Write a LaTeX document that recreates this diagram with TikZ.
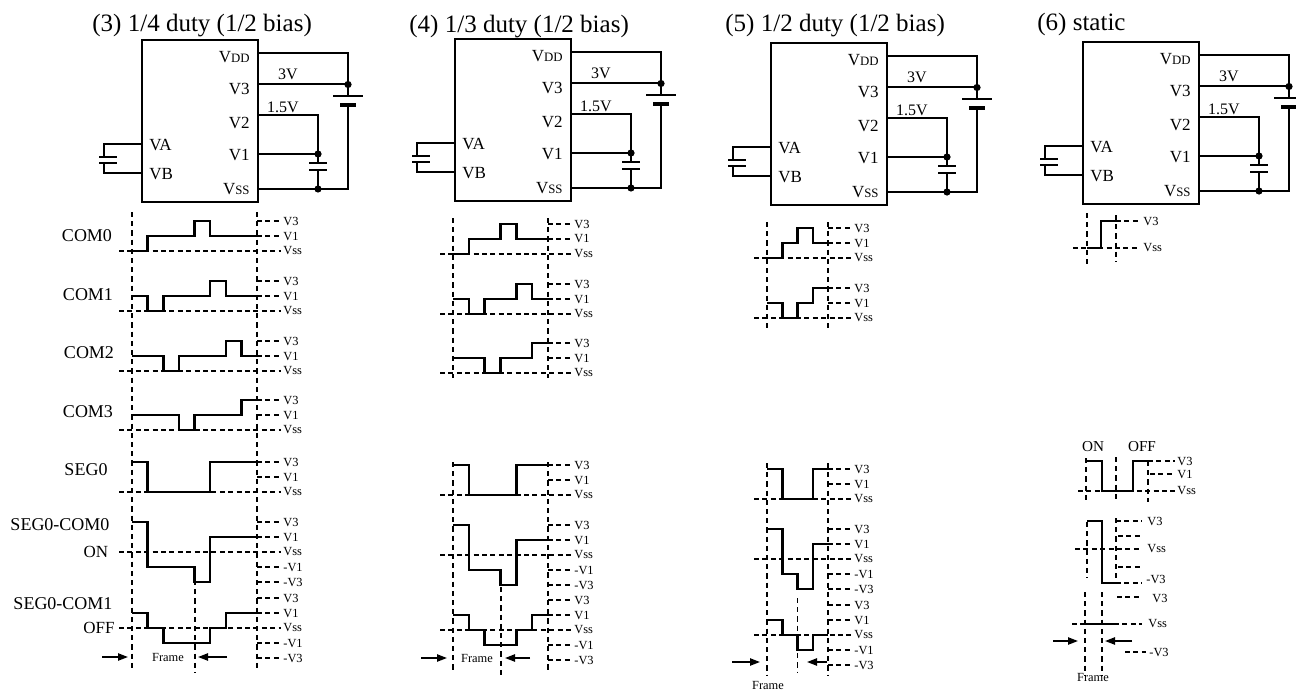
\documentclass[tikz,border=0pt]{standalone}
\usepackage{fontspec}
\setmainfont{Liberation Serif}
\usetikzlibrary{arrows.meta}
\newcommand\smc[1]{{\fontsize{6.4}{7}\selectfont #1}}
\tikzset{
  wave/.style={line width=1.25pt, line join=miter},
  wire/.style={line width=1pt},
  plate/.style={line width=1.3pt},
  bplate/.style={line width=1.8pt},
  dsh/.style={line width=0.75pt, dash pattern=on 2.5pt off 1.7pt},
  vdsh/.style={line width=0.8pt, dash pattern=on 2.6pt off 2pt},
  lvl/.style={font=\fontsize{6.2}{7}\selectfont, anchor=west, inner sep=0pt},
  sig/.style={font=\fontsize{9}{10}\selectfont, inner sep=0pt},
  pin/.style={font=\fontsize{8.5}{10}\selectfont, inner sep=0pt},
  ttl/.style={font=\fontsize{12.5}{14}\selectfont, anchor=base west, inner sep=0pt},
  arr/.style={line width=0.9pt, -{Triangle[length=5pt,width=3.6pt]}},
  dot/.style={circle, fill, inner sep=0pt, minimum size=3.6pt},
}
% circuit block: #1 id, #2 left x, #3 top y
\newcommand\chip[3]{%
  \pgfmathsetmacro\cL{#2}\pgfmathsetmacro\cT{#3}\pgfmathsetmacro\cR{#2+116}%
  \pgfmathsetmacro\cyA{#3+13}\pgfmathsetmacro\cyB{#3+44.5}\pgfmathsetmacro\cyC{#3+75.5}%
  \pgfmathsetmacro\cyD{#3+114}\pgfmathsetmacro\cyE{#3+149}%
  \pgfmathsetmacro\cxC{#2+176}\pgfmathsetmacro\cxB{#2+206}%
  \node[draw, wire, minimum width=58pt, minimum height=81pt, inner sep=0pt, outer sep=0pt, anchor=north west] (#1box) at (\cL,\cT) {};
  \draw[wire] (\cR,\cyA) -- (\cxB,\cyA) -- (\cxB,{\cT+56});
  \draw[wire] ({\cxB-15},{\cT+56}) -- ({\cxB+15},{\cT+56});
  \draw[bplate] ({\cxB-8},{\cT+65}) -- ({\cxB+8},{\cT+65});
  \draw[wire] (\cxB,{\cT+65}) -- (\cxB,\cyE) -- (\cR,\cyE);
  \draw[wire] (\cR,\cyB) -- (\cxB,\cyB);
  \draw[wire] (\cR,\cyC) -- (\cxC,\cyC) -- (\cxC,{\cT+123});
  \draw[plate] ({\cxC-9},{\cT+123}) -- ({\cxC+9},{\cT+123});
  \draw[plate] ({\cxC-9},{\cT+130}) -- ({\cxC+9},{\cT+130});
  \draw[wire] (\cxC,{\cT+130}) -- (\cxC,\cyE);
  \draw[wire] (\cR,\cyD) -- (\cxC,\cyD);
  \node[dot] (#1d1) at (\cxB,\cyB) {};
  \node[dot] (#1d2) at (\cxC,\cyD) {};
  \node[dot] (#1d3) at (\cxC,\cyE) {};
  \draw[wire] (\cL,{\cT+104}) -- ({\cL-38},{\cT+104}) -- ({\cL-38},{\cT+117});
  \draw[plate] ({\cL-43},{\cT+117}) -- ({\cL-25},{\cT+117});
  \draw[plate] ({\cL-43},{\cT+123}) -- ({\cL-25},{\cT+123});
  \draw[wire] ({\cL-38},{\cT+123}) -- ({\cL-38},{\cT+133}) -- (\cL,{\cT+133});
  \node[pin, anchor=east] (#1vdd) at ({\cR-8},{\cT+17.5}) {V\smc{DD}};
  \node[pin, anchor=east] (#1vt) at ({\cR-8},{\cT+49}) {V3};
  \node[pin, anchor=east] (#1vtw) at ({\cR-8},{\cT+83}) {V2};
  \node[pin, anchor=east] (#1vo) at ({\cR-8},{\cT+115.5}) {V1};
  \node[pin, anchor=east] (#1vss) at ({\cR-8},{\cT+149}) {V\smc{SS}};
  \node[pin, anchor=west] (#1va) at ({\cL+7},{\cT+105}) {VA};
  \node[pin, anchor=west] (#1vb) at ({\cL+7},{\cT+134}) {VB};
  \node[pin, font=\fontsize{8}{9}\selectfont] (#1tv) at ({\cR+30},{\cT+34}) {3V};
  \node[pin, font=\fontsize{8}{9}\selectfont] (#1hv) at ({\cR+25},{\cT+67}) {1.5V};
}
% step waveform: #1 first level, #2 levels, #3 y0
\newcommand\wv[3]{%
  \draw[wave] ({\xL},{#3+(#1)*\dd}) \foreach \lv [count=\i from 0] in {#2} { -- ({\xL+\i*\s},{#3+\lv*\dd}) -- ({\xL+(\i+1)*\s},{#3+\lv*\dd}) };
}
% three level guide lines
\newcommand\lvthree[2]{%
  \draw[dsh] (\xR,#2) -- ({\xR+\dl},#2);
  \draw[dsh] (\xR,{#2+\dd}) -- ({\xR+\dl},{#2+\dd});
  \draw[dsh] ({\xL-13},{#2+2*\dd}) -- ({\xR+\dl},{#2+2*\dd});
  \node[lvl] (#1a) at ({\xR+\dl+2},#2) {V3};
  \node[lvl] (#1b) at ({\xR+\dl+2},{#2+\dd}) {V1};
  \node[lvl] (#1c) at ({\xR+\dl+2},{#2+2*\dd}) {Vss};
}
% five level guide lines
\newcommand\lvfive[2]{%
  \lvthree{#1}{#2}%
  \draw[dsh] (\xR,{#2+3*\dd}) -- ({\xR+\dl},{#2+3*\dd});
  \draw[dsh] (\xR,{#2+4*\dd}) -- ({\xR+\dl},{#2+4*\dd});
  \node[lvl] (#1d) at ({\xR+\dl+2},{#2+3*\dd}) {-V1};
  \node[lvl] (#1e) at ({\xR+\dl+2},{#2+4*\dd}) {-V3};
}
\begin{document}
\begin{tikzpicture}[x=0.5pt,y=-0.5pt]
\useasboundingbox (0,0) rectangle (1296,690);
\fill[white] (0,0) rectangle (1296,690);

% titles
\node[ttl] (t3) at (92,32) {(3) 1/4 duty (1/2 bias)};
\node[ttl] (t4) at (409,33) {(4) 1/3 duty (1/2 bias)};
\node[ttl] (t5) at (725,32) {(5) 1/2 duty (1/2 bias)};
\node[ttl] (t6) at (1037,31) {(6) static};

% circuits
\chip{pa}{142}{40}
\chip{pb}{455}{39}
\chip{pc}{771}{43}
\chip{pd}{1083}{42}

% ---------- panel (3) ----------
\def\xL{132}\def\xR{257}\def\s{15.625}\def\dd{15}\def\dl{24}
\draw[vdsh] (\xL,212) -- (\xL,668);
\draw[vdsh] (\xR,212) -- (\xR,668);
\draw[vdsh] (195,580) -- (195,673);
\lvthree{a0}{221}\wv{2}{2,1,1,1,0,1,1,1}{221}
\lvthree{a1}{281}\wv{1}{1,2,1,1,1,0,1,1}{281}
\lvthree{a2}{341}\wv{1}{1,1,2,1,1,1,0,1}{341}
\lvthree{a3}{400}\wv{1}{1,1,1,2,1,1,1,0}{400}
\lvthree{a4}{462}\wv{0}{0,2,2,2,2,0,0,0}{462}
\lvfive{a5}{522}\wv{0}{0,3,3,3,4,1,1,1}{522}
\lvfive{a6}{598}\wv{1}{1,2,3,3,3,2,1,1}{598}
\node[sig] (lc0) at (87,236) {COM0};
\node[sig] (lc1) at (88,295) {COM1};
\node[sig] (lc2) at (89,353) {COM2};
\node[sig] (lc3) at (88,412) {COM3};
\node[sig] (ls0) at (86,470) {SEG0};
\node[sig] (ls1) at (60,525) {SEG0-COM0};
\node[sig, font=\fontsize{8.5}{10}\selectfont] (lon) at (96,552) {ON};
\node[sig] (ls2) at (63,604) {SEG0-COM1};
\node[sig, font=\fontsize{8.5}{10}\selectfont] (loff) at (99,628) {OFF};
\coordinate (a7p) at (102,657); \coordinate (a7q) at (128,657);
\coordinate (a7r) at (227,657); \coordinate (a7s) at (198,657);
\draw[arr] (a7p) -- (a7q);
\draw[arr] (a7r) -- (a7s);
\node[lvl, anchor=center] (a7f) at (168,657) {Frame};

% ---------- panel (4) ----------
\def\xL{453}\def\xR{548}\def\s{15.8333}
\draw[vdsh] (\xL,218) -- (\xL,378);
\draw[vdsh] (\xR,218) -- (\xR,378);
\draw[vdsh] (\xL,462) -- (\xL,670);
\draw[vdsh] (\xR,462) -- (\xR,670);
\draw[vdsh] (501,587) -- (501,675);
\lvthree{b0}{224}\wv{2}{2,1,1,0,1,1}{224}
\lvthree{b1}{284}\wv{1}{1,2,1,1,0,1}{284}
\lvthree{b2}{343}\wv{1}{1,1,2,1,1,0}{343}
\lvthree{b4}{465}\wv{0}{0,2,2,2,0,0}{465}
\lvfive{b5}{525}\wv{0}{0,3,3,4,1,1}{525}
\lvfive{b6}{600}\wv{1}{1,2,3,3,2,1}{600}
\coordinate (b7p) at (421,658); \coordinate (b7q) at (447,658);
\coordinate (b7r) at (530,658); \coordinate (b7s) at (505,658);
\draw[arr] (b7p) -- (b7q);
\draw[arr] (b7r) -- (b7s);
\node[lvl, anchor=center] (b7f) at (477,658) {Frame};

% ---------- panel (5) ----------
\def\xL{767}\def\xR{828}\def\s{15.25}
\draw[vdsh] (\xL,222) -- (\xL,330);
\draw[vdsh] (\xR,222) -- (\xR,330);
\draw[vdsh] (\xL,463) -- (\xL,675);
\draw[vdsh] (\xR,463) -- (\xR,675);
\draw[vdsh] (797.5,598) -- (797.5,673);
\lvthree{c0}{228}\wv{2}{2,1,0,1}{228}
\lvthree{c1}{288}\wv{1}{1,2,1,0}{288}
\lvthree{c4}{469}\wv{0}{0,2,2,0}{469}
\lvfive{c5}{529}\wv{0}{0,3,4,1}{529}
\lvfive{c6}{605}\wv{1}{1,2,3,2}{605}
\coordinate (c7p) at (732,662); \coordinate (c7q) at (760,662);
\coordinate (c7r) at (827,662); \coordinate (c7s) at (807,662);
\draw[arr] (c7p) -- (c7q);
\draw[arr] (c7r) -- (c7s);
\node[lvl, anchor=center] (c7f) at (768,685) {Frame};

% ---------- panel (6) static ----------
% COM0
\draw[vdsh] (1087,213) -- (1087,267);
\draw[vdsh] (1116,215) -- (1116,262);
\draw[dsh] (1116,221) -- (1140,221);
\draw[dsh] (1073,248) -- (1140,248);
\draw[wave] (1087,248) -- (1101,248) -- (1101,221) -- (1116,221);
\node[lvl] (d0a) at (1143,221) {V3};
\node[lvl] (d0c) at (1143,248) {Vss};
% SEG0
\node[pin, font=\fontsize{7.6}{9}\selectfont] (don) at (1093,447) {ON};
\node[pin, font=\fontsize{7.6}{9}\selectfont] (doff) at (1142,447) {OFF};
\draw[vdsh] (1086,458) -- (1086,502);
\draw[vdsh] (1116,457) -- (1116,502);
\draw[vdsh] (1148,461) -- (1148,502);
\draw[dsh] (1148,461) -- (1175,461);
\draw[dsh] (1150,474) -- (1175,474);
\draw[dsh] (1078,491) -- (1175,491);
\draw[wave] (1086,461) -- (1102,461) -- (1102,491) -- (1133,491) -- (1133,461) -- (1148,461);
\node[lvl] (d4a) at (1177,461) {V3};
\node[lvl] (d4b) at (1177,474) {V1};
\node[lvl] (d4c) at (1177,491) {Vss};
% SEG0-COM0
\draw[vdsh] (1087,522) -- (1087,578);
\draw[vdsh] (1116,518) -- (1116,583);
\draw[dsh] (1116,521) -- (1142,521);
\draw[dsh] (1118,536) -- (1142,536);
\draw[dsh] (1075,549) -- (1142,549);
\draw[dsh] (1118,567) -- (1142,567);
\draw[dsh] (1116,583) -- (1142,583);
\draw[wave] (1087,521) -- (1102,521) -- (1102,583) -- (1116,583);
\node[lvl] (d5a) at (1147,521) {V3};
\node[lvl] (d5c) at (1147,549) {Vss};
\node[lvl] (d5e) at (1146,579) {-V3};
% SEG0-COM1
\draw[dsh] (1117,597) -- (1140,597);
\node[lvl] (d6a) at (1152,598) {V3};
\draw[vdsh] (1085,592) -- (1085,675);
\draw[vdsh] (1102,592) -- (1102,675);
\draw[dsh] (1072,624) -- (1142,624);
\draw[wave] (1085,624) -- (1115,624);
\node[lvl] (d6c) at (1148,624) {Vss};
\draw[dsh] (1125,652) -- (1146,652);
\node[lvl] (d6e) at (1149,652) {-V3};
\coordinate (d7p) at (1053,641); \coordinate (d7q) at (1078,641);
\coordinate (d7r) at (1132,641); \coordinate (d7s) at (1105,641);
\draw[arr] (d7p) -- (d7q);
\draw[arr] (d7r) -- (d7s);
\node[lvl, anchor=center] (d7f) at (1093,677) {Frame};
\end{tikzpicture}
\end{document}
